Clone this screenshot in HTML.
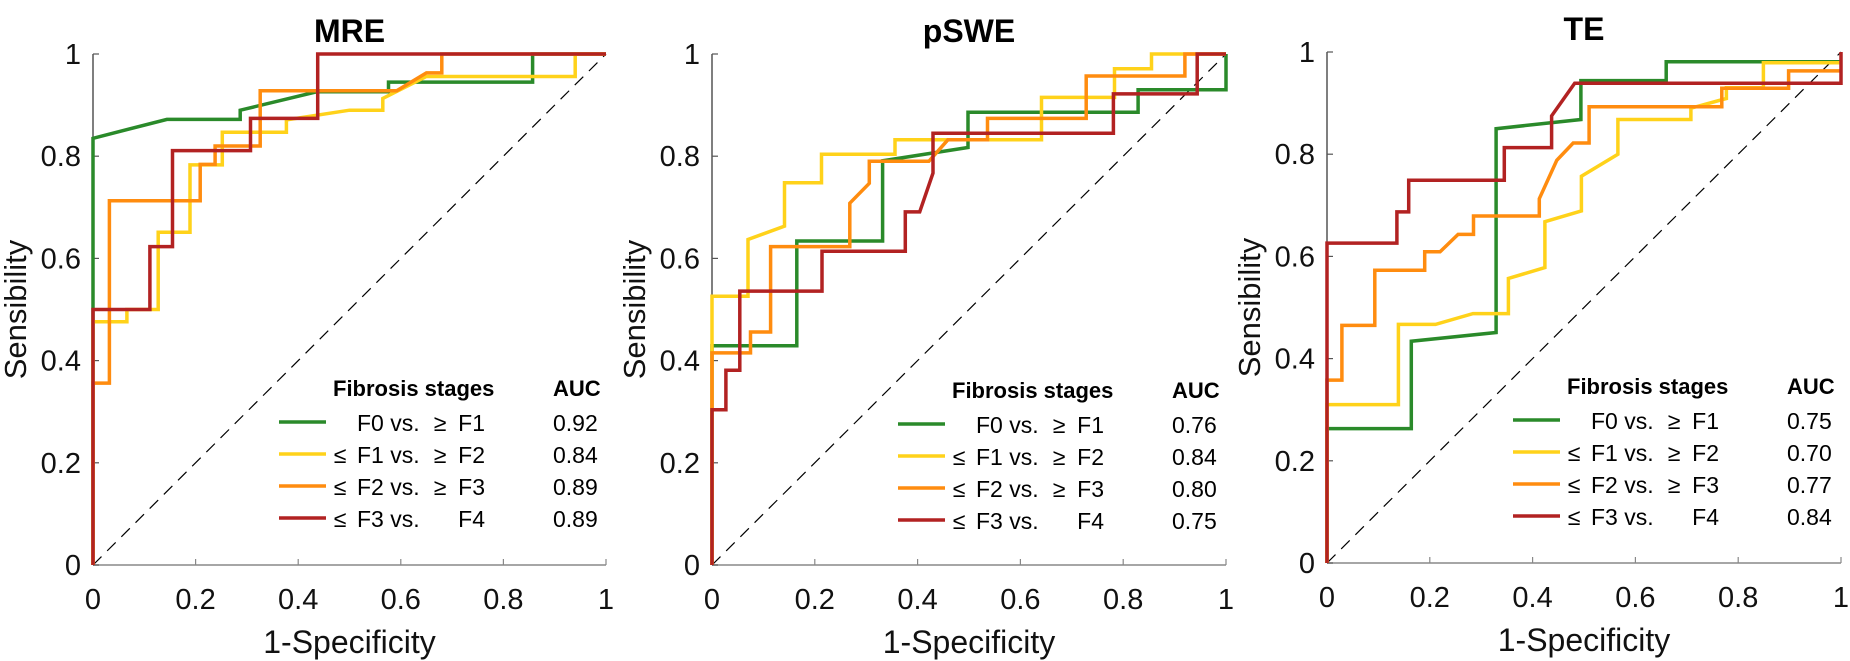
<!DOCTYPE html>
<html><head><meta charset="utf-8"><style>
html,body{margin:0;padding:0;background:#fff;}
svg{display:block;font-family:"Liberation Sans",Arial,sans-serif;}
</style></head><body>
<svg id="chart" width="1850" height="661" viewBox="0 0 1850 661" xmlns="http://www.w3.org/2000/svg"></svg>
<script>
// ---- data ----
const panelTitles = ["MRE", "pSWE", "TE"];
const tickValues = [0, 0.2, 0.4, 0.6, 0.8, 1];
const tickLabels = ["0", "0.2", "0.4", "0.6", "0.8", "1"];
const seriesLabelsLeft = ["", "\u2264", "\u2264", "\u2264"];
const seriesLabelsMid = ["F0 vs.", "F1 vs.", "F2 vs.", "F3 vs."];
const seriesLabelsRel = ["\u2265", "\u2265", "\u2265", ""];
const seriesLabelsRight = ["F1", "F2", "F3", "F4"];
const seriesColors = ["#2a8a2a", "#ffd21a", "#ff8c0f", "#b22222"];
const aucMRE = ["0.92", "0.84", "0.89", "0.89"];
const aucPSWE = ["0.76", "0.84", "0.80", "0.75"];
const aucTE = ["0.75", "0.70", "0.77", "0.84"];

const mreF0x = [0,0,0.144,0.287,0.287,0.436,0.576,0.576,0.857,0.857,1];
const mreF0y = [0,0.835,0.872,0.872,0.89,0.926,0.926,0.945,0.945,1,1];
const mreF1x = [0,0,0.066,0.066,0.127,0.127,0.189,0.189,0.252,0.252,0.377,0.377,0.5,0.565,0.565,0.65,0.94,0.94,1];
const mreF1y = [0,0.476,0.476,0.5,0.5,0.651,0.651,0.783,0.783,0.847,0.847,0.871,0.89,0.89,0.913,0.956,0.956,1,1];
const mreF2x = [0,0,0.032,0.032,0.209,0.209,0.238,0.238,0.326,0.326,0.592,0.65,0.68,0.68,1];
const mreF2y = [0,0.356,0.356,0.713,0.713,0.784,0.784,0.82,0.82,0.928,0.928,0.963,0.963,1,1];
const mreF3x = [0,0,0.111,0.111,0.155,0.155,0.307,0.307,0.438,0.438,1];
const mreF3y = [0,0.5,0.5,0.623,0.623,0.811,0.811,0.874,0.874,1,1];

const psweF0x = [0,0,0.165,0.165,0.332,0.332,0.498,0.498,0.829,0.829,1,1];
const psweF0y = [0,0.429,0.429,0.634,0.634,0.791,0.817,0.886,0.886,0.93,0.93,1];
const psweF1x = [0,0,0.07,0.07,0.141,0.141,0.213,0.213,0.356,0.356,0.641,0.641,0.783,0.783,0.855,0.855,1];
const psweF1y = [0,0.526,0.526,0.637,0.663,0.748,0.748,0.804,0.804,0.832,0.832,0.915,0.915,0.971,0.971,1,1];
const psweF2x = [0,0,0.075,0.075,0.114,0.114,0.268,0.268,0.306,0.306,0.422,0.459,0.536,0.536,0.728,0.728,0.92,0.92,1];
const psweF2y = [0,0.415,0.415,0.456,0.456,0.623,0.623,0.708,0.747,0.79,0.79,0.832,0.832,0.874,0.874,0.957,0.957,1,1];
const psweF3x = [0,0,0.027,0.027,0.054,0.054,0.214,0.214,0.376,0.376,0.404,0.43,0.43,0.781,0.781,0.944,0.944,1];
const psweF3y = [0,0.304,0.304,0.381,0.381,0.536,0.536,0.614,0.614,0.691,0.691,0.767,0.845,0.845,0.922,0.922,1,1];

const teF0x = [0,0,0.164,0.164,0.329,0.329,0.494,0.494,0.66,0.66,1];
const teF0y = [0,0.263,0.263,0.434,0.451,0.85,0.868,0.944,0.944,0.981,0.981];
const teF1x = [0,0,0.139,0.139,0.211,0.284,0.353,0.353,0.424,0.424,0.495,0.495,0.566,0.566,0.708,0.708,0.777,0.777,0.849,0.849,1];
const teF1y = [0,0.31,0.31,0.467,0.467,0.488,0.488,0.557,0.578,0.668,0.689,0.757,0.8,0.868,0.868,0.89,0.909,0.93,0.93,0.979,0.979];
const teF2x = [0,0,0.029,0.029,0.093,0.093,0.19,0.19,0.22,0.255,0.285,0.285,0.413,0.413,0.447,0.479,0.51,0.51,0.768,0.768,0.898,0.898,1];
const teF2y = [0,0.358,0.358,0.465,0.465,0.573,0.573,0.609,0.609,0.643,0.643,0.679,0.679,0.713,0.788,0.822,0.822,0.893,0.893,0.929,0.929,0.963,0.963];
const teF3x = [0,0,0.136,0.136,0.159,0.159,0.345,0.345,0.437,0.437,0.482,1,1];
const teF3y = [0,0.626,0.626,0.687,0.687,0.749,0.749,0.813,0.813,0.875,0.939,0.939,1];

const panelSeriesX = [[mreF0x,mreF1x,mreF2x,mreF3x],[psweF0x,psweF1x,psweF2x,psweF3x],[teF0x,teF1x,teF2x,teF3x]];
const panelSeriesY = [[mreF0y,mreF1y,mreF2y,mreF3y],[psweF0y,psweF1y,psweF2y,psweF3y],[teF0y,teF1y,teF2y,teF3y]];
const panelAUC = [aucMRE, aucPSWE, aucTE];

// ---- layout ----
const boxes = [{x0:93,x1:606,y0:565,y1:54},{x0:712,x1:1226,y0:565,y1:54},{x0:1327,x1:1841,y0:563,y1:52}];
const NS = "http://www.w3.org/2000/svg";
const svg = document.getElementById("chart");
function mk(tag, attrs, parent){const e=document.createElementNS(NS,tag);for(const k in attrs)e.setAttribute(k,attrs[k]);(parent||svg).appendChild(e);return e;}

boxes.forEach((b,p)=>{
  const sx = v => b.x0 + v*(b.x1-b.x0);
  const sy = v => b.y0 - v*(b.y0-b.y1);
  const g = mk("g",{});
  
  

  const t = mk("text",{x:(b.x0+b.x1)/2,y:b.y1-12,"text-anchor":"middle","font-size":"32","font-weight":"bold",fill:"#000"},g);
  t.textContent = panelTitles[p];
  
  

  const ya = mk("line",{x1:b.x0,y1:b.y0,x2:b.x0,y2:b.y1,stroke:"#555","stroke-width":"1.5"},g);
  
  
  const xa = mk("line",{x1:b.x0,y1:b.y0,x2:b.x1,y2:b.y0,stroke:"#888","stroke-width":"1.5"},g);
  
  

  tickValues.forEach((v,i)=>{
    mk("line",{x1:b.x0,y1:sy(v),x2:b.x0+6,y2:sy(v),stroke:"#555","stroke-width":"1.2"},g);
    mk("line",{x1:sx(v),y1:b.y0,x2:sx(v),y2:b.y0-6,stroke:"#888","stroke-width":"1.2"},g);
    const yl = mk("text",{x:b.x0-12,y:sy(v)+10,"text-anchor":"end","font-size":"29",fill:"#111"},g);
    yl.textContent = tickLabels[i];
    
    
    const xl = mk("text",{x:sx(v),y:b.y0+44,"text-anchor":"middle","font-size":"29",fill:"#111"},g);
    xl.textContent = tickLabels[i];
    
    
  });

  const xt = mk("text",{x:(b.x0+b.x1)/2,y:b.y0+88,"text-anchor":"middle","font-size":"32",fill:"#111"},g);
  xt.textContent = "1-Specificity";
  
  
  const cy = (b.y0+b.y1)/2;
  const yx = b.x0-67;
  const yt = mk("text",{x:yx,y:cy,"text-anchor":"middle","font-size":"31",fill:"#111",transform:`rotate(-90 ${yx} ${cy})`},g);
  yt.textContent = "Sensibility";
  
  

  const d = mk("line",{x1:sx(0),y1:sy(0),x2:sx(1),y2:sy(1),stroke:"#000","stroke-width":"1.2","stroke-dasharray":"12 8"},g);
  
  

  panelSeriesX[p].forEach((xs,s)=>{
    const ys = panelSeriesY[p][s];
    const pts = xs.map((x,i)=>sx(x).toFixed(1)+","+sy(ys[i]).toFixed(1)).join(" ");
    const pl = mk("polyline",{points:pts,fill:"none",stroke:seriesColors[s],"stroke-width":"3.5","stroke-linejoin":"miter"},g);
    
    
  });

  const lg = mk("g",{},g);
  
  
  const ly = b.y0 - 169 + (p===1?2:0);
  const h1 = mk("text",{x:b.x0+240,y:ly,"font-size":"22","font-weight":"bold",fill:"#000"},lg);
  h1.textContent = "Fibrosis stages";
  
  
  const h2 = mk("text",{x:b.x0+460,y:ly,"font-size":"22","font-weight":"bold",fill:"#000"},lg);
  h2.textContent = "AUC";
  
  
  for(let s=0;s<4;s++){
    const ry = ly + 35 + s*32;
    const e = mk("g",{},lg);
    
    
    mk("line",{x1:b.x0+186,y1:ry-9,x2:b.x0+233,y2:ry-9,stroke:seriesColors[s],"stroke-width":"3.5"},e);
    const tx = mk("text",{x:b.x0+247,y:ry,"text-anchor":"middle","font-size":"23",fill:"#000"},e);
    tx.textContent = seriesLabelsLeft[s];
    const tm = mk("text",{x:b.x0+264,y:ry,"font-size":"23",fill:"#000"},e);
    tm.textContent = seriesLabelsMid[s];
    const tr = mk("text",{x:b.x0+347,y:ry,"text-anchor":"middle","font-size":"23",fill:"#000"},e);
    tr.textContent = seriesLabelsRel[s];
    const tf = mk("text",{x:b.x0+392,y:ry,"text-anchor":"end","font-size":"23",fill:"#000"},e);
    tf.textContent = seriesLabelsRight[s];
    const ta = mk("text",{x:b.x0+460,y:ry,"font-size":"23",fill:"#000"},e);
    ta.textContent = panelAUC[p][s];
    
    
  }
});
</script>
</body></html>
